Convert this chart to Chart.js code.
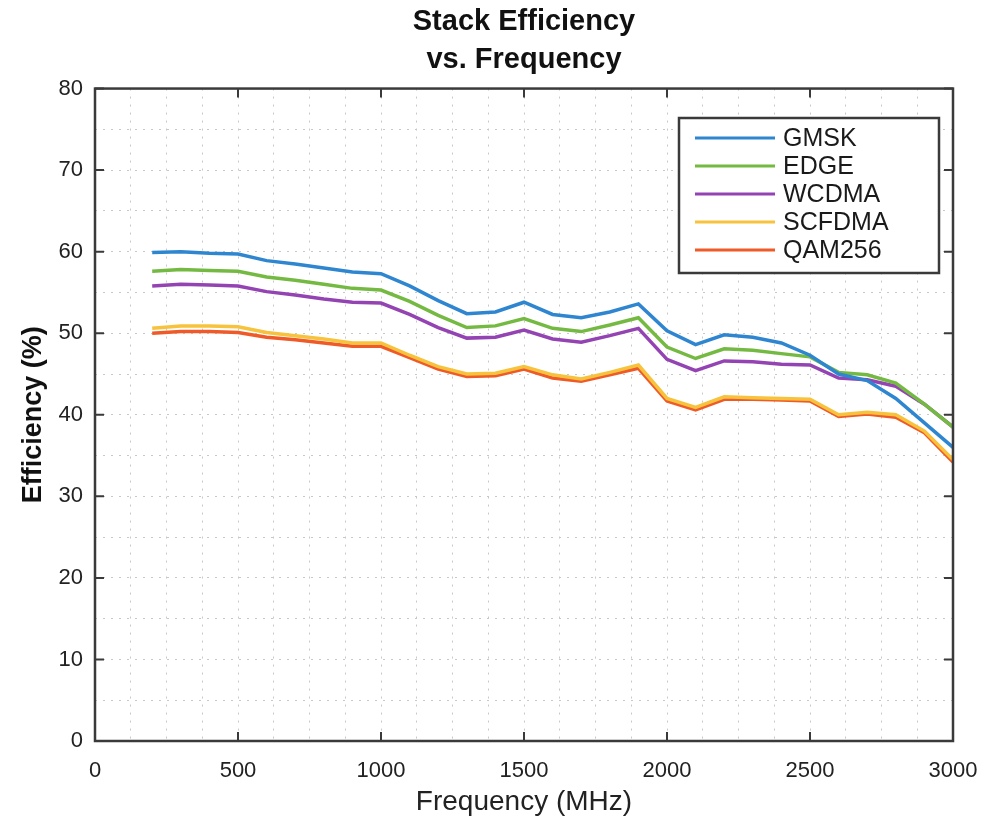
<!DOCTYPE html>
<html>
<head>
<meta charset="utf-8">
<script src="https://cdn.jsdelivr.net/npm/chart.js@4.4.0/dist/chart.umd.min.js"></script>
<style>
  html, body { margin: 0; padding: 0; background: #fff; }
  #eff { display: block; }
</style>
</head>
<body>
<canvas id="eff" width="984" height="821"></canvas>
<script>
const freqs = [200, 300, 400, 500, 600, 700, 800, 900, 1000, 1100, 1200, 1300, 1400, 1500,
   1600, 1700, 1800, 1900, 2000, 2100, 2200, 2300, 2400, 2500, 2600, 2700, 2800, 2900, 3000];

const gmsk = [59.9, 60.0, 59.8, 59.7, 58.9, 58.5, 58.0, 57.5, 57.3, 55.8, 54.0, 52.4, 52.6, 53.8,
   52.3, 51.9, 52.6, 53.6, 50.3, 48.6, 49.8, 49.5, 48.8, 47.3, 45.0, 44.2, 42.0, 39.0, 36.0];
const edge = [57.6, 57.8, 57.7, 57.6, 56.9, 56.5, 56.0, 55.5, 55.3, 53.9, 52.2, 50.7, 50.9, 51.8,
   50.6, 50.2, 51.0, 51.9, 48.3, 46.9, 48.1, 47.9, 47.5, 47.1, 45.2, 44.9, 43.9, 41.3, 38.5];
const wcdma = [55.8, 56.0, 55.9, 55.8, 55.1, 54.7, 54.2, 53.8, 53.7, 52.3, 50.7, 49.4, 49.5, 50.4,
   49.3, 48.9, 49.7, 50.6, 46.8, 45.4, 46.6, 46.5, 46.2, 46.1, 44.5, 44.3, 43.5, 41.3, 38.5];
const scfdma = [50.6, 50.9, 50.9, 50.8, 50.1, 49.7, 49.3, 48.8, 48.8, 47.3, 45.9, 45.0, 45.1, 45.9,
   44.9, 44.4, 45.2, 46.1, 42.0, 40.9, 42.2, 42.1, 42.0, 41.9, 40.0, 40.3, 40.0, 38.0, 34.5];
const qam256 = [50.0, 50.2, 50.2, 50.1, 49.5, 49.2, 48.8, 48.4, 48.4, 47.0, 45.6, 44.7, 44.8, 45.6,
   44.5, 44.1, 44.9, 45.7, 41.7, 40.6, 41.9, 41.9, 41.8, 41.7, 39.8, 40.1, 39.7, 37.8, 34.2];

const seriesNames = ["GMSK", "EDGE", "WCDMA", "SCFDMA", "QAM256"];
const seriesValues = [gmsk, edge, wcdma, scfdma, qam256];
const seriesColors = ["#2f86d0", "#74ba42", "#9443b3", "#f7c33c", "#ee5b28"];

const xTickLabels = [0, 500, 1000, 1500, 2000, 2500, 3000];
const yTickLabels = [0, 10, 20, 30, 40, 50, 60, 70, 80];

const FONT = "'Liberation Sans', Arial, Helvetica, sans-serif";
const frameColor = "#3a3a3a";

// box, inward tick marks and legend, drawn like the original figure
const frameLegend = {
   id: "frameLegend",
   afterLayout(chart) {
      // centre the title over the plot box, not the whole canvas
      const t = chart.titleBlock;
      if (t) {
         t.left = chart.chartArea.left;
         t.right = chart.chartArea.right;
         t.width = t.right - t.left;
      }
   },
   afterDatasetsDraw(chart) {
      const ctx = chart.ctx;
      const a = chart.chartArea;
      const xs = chart.scales.x;
      const ys = chart.scales.y;
      ctx.save();
      ctx.strokeStyle = frameColor;
      ctx.lineWidth = 2;
      ctx.beginPath();
      xTickLabels.forEach(v => {
         const px = xs.getPixelForValue(v);
         ctx.moveTo(px, a.bottom); ctx.lineTo(px, a.bottom - 9);
         ctx.moveTo(px, a.top); ctx.lineTo(px, a.top + 9);
      });
      yTickLabels.forEach(v => {
         const py = ys.getPixelForValue(v);
         ctx.moveTo(a.left, py); ctx.lineTo(a.left + 9, py);
         ctx.moveTo(a.right, py); ctx.lineTo(a.right - 9, py);
      });
      ctx.stroke();
      ctx.lineWidth = 2.5;
      ctx.strokeRect(a.left, a.top, a.right - a.left, a.bottom - a.top);

      // legend box
      const bx = 679, by = 118, bw = 260, bh = 155;
      ctx.fillStyle = "#fff";
      ctx.fillRect(bx, by, bw, bh);
      ctx.lineWidth = 2.5;
      ctx.strokeRect(bx, by, bw, bh);
      ctx.font = "25px " + FONT;
      ctx.textBaseline = "middle";
      ctx.textAlign = "left";
      chart.data.datasets.forEach((ds, i) => {
         const ry = by + 20 + i * 28;
         ctx.strokeStyle = ds.borderColor;
         ctx.lineWidth = 3;
         ctx.beginPath();
         ctx.moveTo(bx + 16, ry);
         ctx.lineTo(bx + 96, ry);
         ctx.stroke();
         ctx.fillStyle = "#1a1a1a";
         ctx.fillText(ds.label, bx + 104, ry + 1);
      });
      ctx.restore();
   }
};

let effChart = new Chart("eff", {
   type: "line",
   data: {
      datasets: seriesNames.map((name, i) => ({
         label: name,
         data: freqs.map((f, j) => ({ x: f, y: seriesValues[i][j] })),
         borderColor: seriesColors[i],
         borderWidth: 3.5,
         pointRadius: 0,
         tension: 0,
         fill: false
      }))
   },
   options: {
      responsive: false,
      animation: false,
      layout: { padding: { left: 0, right: 31, top: 0, bottom: 0 } },
      plugins: {
         legend: { display: false },
         tooltip: { enabled: false },
         title: {
            display: true,
            text: ["Stack Efficiency", "vs. Frequency"],
            color: "#111",
            font: { family: FONT, size: 29, weight: "bold", lineHeight: 1.32 },
            padding: { top: 3, bottom: 9 }
         }
      },
      scales: {
         x: {
            type: "linear",
            min: 0,
            max: 3000,
            afterFit(scale) {
               scale.height = 80;
               scale.paddingLeft = 0;
               scale.paddingRight = 0;
            },
            border: { display: false, dash: [2, 6] },
            grid: { color: "#c8c8c8", drawTicks: false, lineWidth: 1 },
            ticks: {
               stepSize: 125,
               autoSkip: false,
               maxRotation: 0,
               padding: 17,
               color: "#222",
               font: { family: FONT, size: 22 },
               callback: v => (xTickLabels.includes(v) ? String(v) : "")
            },
            title: {
               display: true,
               text: "Frequency (MHz)",
               color: "#222",
               font: { family: FONT, size: 28 },
               padding: { top: 0, bottom: 2 }
            }
         },
         y: {
            min: 0,
            max: 80,
            afterFit(scale) {
               scale.width = 95;
               scale.paddingTop = 0;
               scale.paddingBottom = 0;
            },
            border: { display: false, dash: [2, 6] },
            grid: { color: "#c8c8c8", drawTicks: false, lineWidth: 1 },
            ticks: {
               stepSize: 5,
               autoSkip: false,
               padding: 12,
               color: "#222",
               font: { family: FONT, size: 22 },
               callback: v => (yTickLabels.includes(v) ? String(v) : "")
            },
            title: {
               display: true,
               text: "Efficiency (%)",
               color: "#111",
               font: { family: FONT, size: 27, weight: "bold" },
               padding: { top: 17, bottom: 0 }
            }
         }
      }
   },
   plugins: [frameLegend]
});
</script>
</body>
</html>
